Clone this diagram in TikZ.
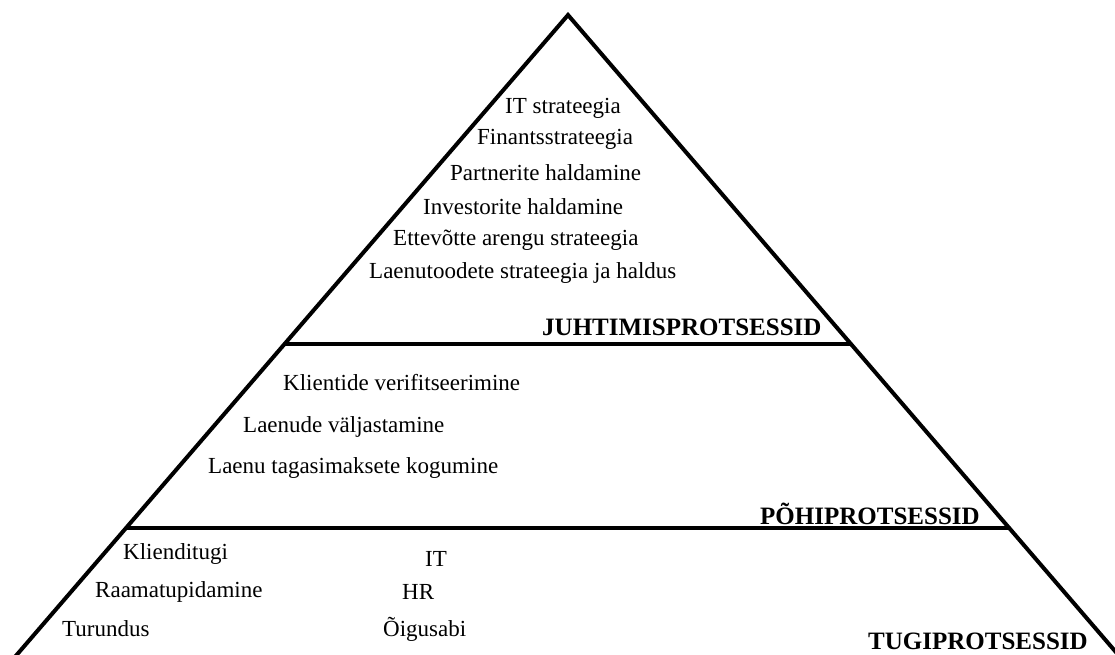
\documentclass[tikz,border=0pt]{standalone}
\usepackage{fontspec}
\setmainfont{Liberation Serif}
\begin{document}
\begin{tikzpicture}[x=1pt,y=-1pt,
  edge/.style={line width=4pt, line join=miter},
  item/.style={anchor=west, inner sep=0pt, font=\fontsize{23}{25}\selectfont},
  level/.style={anchor=west, inner sep=0pt, font=\fontsize{25}{27}\selectfont\bfseries}]
\useasboundingbox (0,0) rectangle (1115,655);
\clip (0,0) rectangle (1115,655);
% outline of the pyramid and the two level dividers
\coordinate (apex) at (568,15);
\coordinate (bl) at (8,665);
\coordinate (br) at (1127,665);
\coordinate (d1l) at (285,344);
\coordinate (d1r) at (851,344);
\coordinate (d2l) at (125,528);
\coordinate (d2r) at (1010,528);
\draw[edge] (bl) -- (apex) -- (br);
\draw[edge] (d1l) -- (d1r);
\draw[edge] (d2l) -- (d2r);
% management processes
\node[item] (m1) at (505,108) {IT strateegia};
\node[item] (m2) at (477,139) {Finantsstrateegia};
\node[item] (m3) at (450,173) {Partnerite haldamine};
\node[item] (m4) at (423,207) {Investorite haldamine};
\node[item] (m5) at (393,240) {Ettevõtte arengu strateegia};
\node[item] (m6) at (369,273) {Laenutoodete strateegia ja haldus};
\node[level] (lm) at (542,327) {JUHTIMISPROTSESSID};
% core processes
\node[item] (c1) at (283,383) {Klientide verifitseerimine};
\node[item] (c2) at (243,427) {Laenude väljastamine};
\node[item] (c3) at (208,468) {Laenu tagasimaksete kogumine};
\node[level] (lc) at (760,514) {PÕHIPROTSESSID};
% support processes
\node[item] (s1) at (123,554) {Klienditugi};
\node[item] (s2) at (95,592) {Raamatupidamine};
\node[item] (s3) at (62,629) {Turundus};
\node[item] (s4) at (425,559) {IT};
\node[item] (s5) at (402,592) {HR};
\node[item] (s6) at (383,629) {Õigusabi};
\node[level] (ls) at (868,641) {TUGIPROTSESSID};
\end{tikzpicture}
\end{document}
